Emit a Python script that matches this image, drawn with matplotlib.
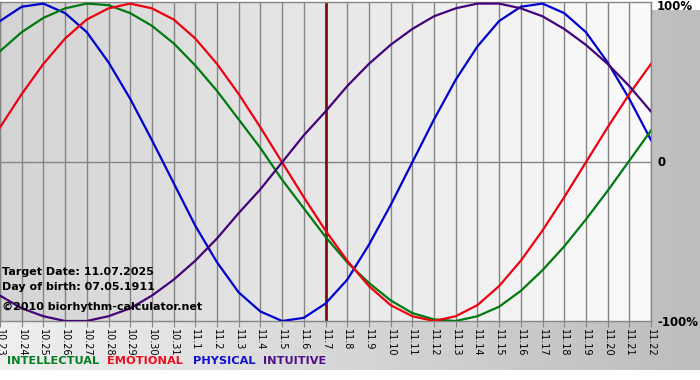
import numpy as np
import matplotlib
matplotlib.use('Agg')
import matplotlib.pyplot as plt

# day labels (month.day) from 10.23 to 11.22
days = ['10.23', '10.24', '10.25', '10.26', '10.27', '10.28', '10.29', '10.30', '10.31',
        '11.1', '11.2', '11.3', '11.4', '11.5', '11.6', '11.7', '11.8', '11.9', '11.10',
        '11.11', '11.12', '11.13', '11.14', '11.15', '11.16', '11.17', '11.18', '11.19',
        '11.20', '11.21', '11.22']

# values, -1 .. 1
physical = [0.89, 0.98, 1.00, 0.94, 0.82, 0.63, 0.40, 0.14, -0.13, -0.40, -0.63,
            -0.82, -0.94, -1.00, -0.98, -0.89, -0.74, -0.52, -0.27, 0.00, 0.27,
            0.52, 0.73, 0.89, 0.98, 1.00, 0.94, 0.82, 0.63, 0.40, 0.14]
emotional = [0.22, 0.43, 0.62, 0.78, 0.90, 0.97, 1.00, 0.97, 0.90, 0.78, 0.62,
             0.43, 0.22, 0.00, -0.22, -0.43, -0.62, -0.78, -0.90, -0.97, -1.00,
             -0.97, -0.90, -0.78, -0.62, -0.43, -0.22, 0.00, 0.22, 0.43, 0.62]
intellectual = [0.70, 0.82, 0.91, 0.97, 1.00, 0.99, 0.94, 0.86, 0.75, 0.61, 0.45,
                0.27, 0.09, -0.11, -0.29, -0.47, -0.63, -0.76, -0.87, -0.95, -0.99,
                -1.00, -0.97, -0.91, -0.81, -0.68, -0.53, -0.36, -0.18, 0.01, 0.20]
intuitive = [-0.84, -0.92, -0.97, -1.00, -1.00, -0.97, -0.92, -0.84, -0.74, -0.62,
             -0.48, -0.32, -0.17, 0.00, 0.17, 0.32, 0.48, 0.62, 0.74, 0.84, 0.92,
             0.97, 1.00, 1.00, 0.97, 0.92, 0.84, 0.74, 0.62, 0.48, 0.32]
target_index = 15

W, H = 700, 380
fig = plt.figure(figsize=(7, 3.8), dpi=100)
fig.patch.set_facecolor('white')


def grad(c1, c2, n=256):
    a = np.array(matplotlib.colors.to_rgb(c1))
    b = np.array(matplotlib.colors.to_rgb(c2))
    t = np.linspace(0, 1, n)[:, None]
    return (a + (b - a) * t)[None, :, :]


# page background
bg = fig.add_axes([0, 10 / H, 1, 360 / H], zorder=-10)
bg.imshow(grad('#efefef', '#bdbdbd'), aspect='auto', extent=[0, 1, 0, 1])
bg.axis('off')

x = np.arange(len(days))
ax = fig.add_axes([0, 59 / H, 651 / W, 319 / H])
ax.imshow(grad('#d4d4d4', '#fbfbfb'), aspect='auto', extent=[0, 30, -1, 1.01], zorder=0)
ax.set_xlim(0, 30)
ax.set_ylim(-1, 1.01)

for xi in x:
    ax.axvline(xi, color='#858585', lw=1, zorder=1)
ax.axhline(0, color='#858585', lw=1, zorder=1)
ax.axvline(target_index, color='#801010', lw=2, zorder=2)

ax.plot(x, physical, color='#0000d0', lw=1.6, zorder=3)
ax.plot(x, intellectual, color='#007a10', lw=1.6, zorder=3)
ax.plot(x, emotional, color='#ee0010', lw=1.6, zorder=3)
ax.plot(x, intuitive, color='#45037a', lw=1.6, zorder=3)

for s in ax.spines.values():
    s.set_color('#858585')
    s.set_linewidth(1)
ax.set_xticks(x)
ax.set_xticklabels(days, fontsize=7, family='DejaVu Sans')
plt.setp(ax.get_xticklabels(), rotation=270, ha='center', va='top')
ax.tick_params(axis='x', length=4, color='#858585', pad=2)
ax.set_yticks([])


def px(xp, yp, s, **kw):
    fig.text(xp / W, 1 - yp / H, s, va='center', fontweight='bold',
             family='DejaVu Sans', **kw)


px(2, 272, 'Target Date: 11.07.2025', fontsize=8)
px(2, 287, 'Day of birth: 07.05.1911', fontsize=8)
px(2, 307, '\u00a92010 biorhythm-calculator.net', fontsize=8)

px(657, 7, '100%', fontsize=8.5)
px(657, 162, '0', fontsize=8.5)
px(657, 322, '-100%', fontsize=8.5)

px(7, 361, 'INTELLECTUAL', fontsize=8.2, color='#008020')
px(107, 361, 'EMOTIONAL', fontsize=8.2, color='#ee1020')
px(193, 361, 'PHYSICAL', fontsize=8.2, color='#1010d0')
px(263, 361, 'INTUITIVE', fontsize=8.2, color='#50108a')

fig.savefig('out.png', dpi=100)
